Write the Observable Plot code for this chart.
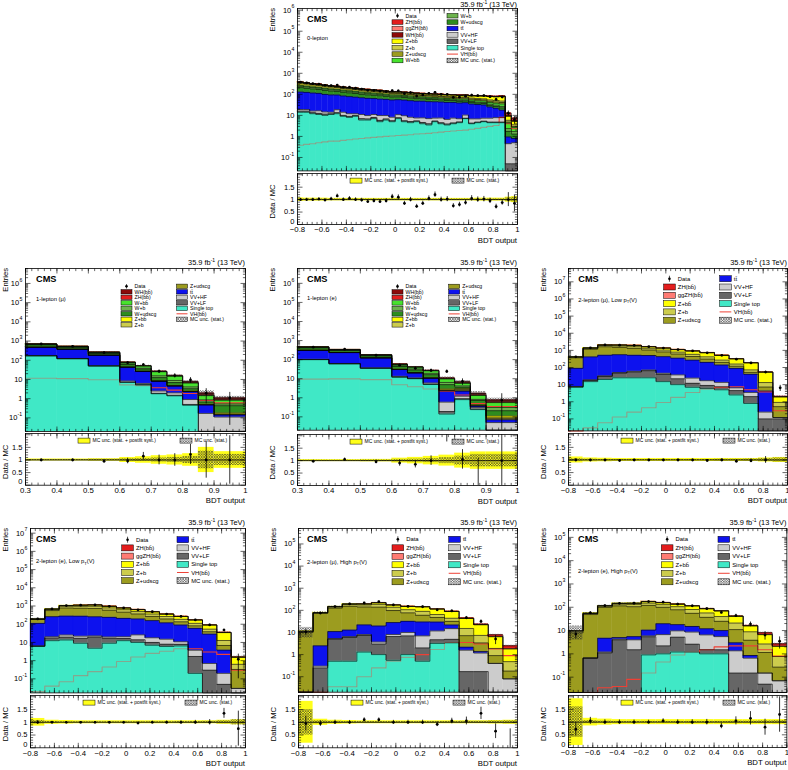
<!DOCTYPE html>
<html><head><meta charset="utf-8">
<script src="https://cdn.jsdelivr.net/npm/d3@7"></script>
<script src="https://cdn.jsdelivr.net/npm/@observablehq/plot@0.6"></script>
<style>
body{margin:0;background:#fff;}
#root{position:relative;width:788px;height:770px;overflow:hidden;background:#fff;}
</style></head><body>
<svg width="0" height="0" style="position:absolute;left:0;top:0"><defs>
<pattern id="hatch" patternUnits="userSpaceOnUse" width="2.6" height="2.6">
<path d="M0,0 L2.6,2.6 M2.6,0 L0,2.6" stroke="#2a2a2a" stroke-width="0.55"/></pattern></defs></svg>
<div id="root"></div>
<script>
// ---------------- data ----------------
const COL = {ZH:"#e31d1d", ggZH:"#ff7b73", WH:"#8b0a0a", Zbb:"#ffff00", Zb:"#cccc4d", Zud:"#9c9c1f",
  Wbb:"#47e22e", Wb:"#6cb34d", Wud:"#2e8c1f", tt:"#0d12ee", VVHF:"#cccccc", VVLF:"#666666", ST:"#40e8c6", VH:"#ee4035"};
const NAME = {Data:"Data", ZH:"ZH(bb\u0304)", ggZH:"ggZH(bb\u0304)", WH:"WH(bb\u0304)", Zbb:"Z+bb\u0304", Zb:"Z+b", Zud:"Z+udscg",
  Wbb:"W+bb\u0304", Wb:"W+b", Wud:"W+udscg", tt:"tt\u0304", VVHF:"VV+HF", VVLF:"VV+LF", ST:"Single top", VH:"VH(bb\u0304)", MC:"MC unc. (stat.)"};

const legend0 = ["Data","ZH","ggZH","WH","Zbb","Zb","Zud","Wbb","Wb","Wud","tt","VVHF","VVLF","ST","VH","MC"];
const legend1 = ["Data","WH","ZH","Wbb","Wb","Wud","Zbb","Zb","Zud","tt","VVHF","VVLF","ST","VH","MC"];
const legend2 = ["Data","ZH","ggZH","Zbb","Zb","Zud","tt","VVHF","VVLF","ST","VH","MC"];

// 0-lepton
const p1_edges = [-0.8,-0.75,-0.7,-0.65,-0.6,-0.55,-0.5,-0.45,-0.4,-0.35,-0.3,-0.25,-0.2,-0.15,-0.1,-0.05,0,0.05,0.1,0.15,0.2,0.25,0.3,0.35,0.4,0.45,0.5,0.55,0.6,0.65,0.7,0.75,0.8,0.85,0.9,0.95,1.0];
const p1_ST   = [14,14,12,11,10,11,12,9,8,9, 6,6,7,5,6,5,7,5,4.5,5, 4,3.5,5,4,3.5,4,4.5,7,4,4.5, 5,4.5,4.5,4.5,0,0];
const p1_VVLF = [2,2,1.5,1.5,1.5,1,1.5,1,1,1, 1,0.8,1,0.8,0.8,0.6,0.8,0.6,0.6,0.5, 0.6,0.5,0.4,0.5,0.4,0.4,0.4,0.3,0.3,0.3, 0.3,0.3,0.3,0.3,0.05,0.05];
const p1_VVHF = [3,3,2.5,4,3,2,5,4,3,2, 4,3,3,4,3,2.5,3,4,3,2, 3,3,2,3,2.5,3,2,3,2.5,2, 2,2.5,3,3,0.4,0.45];
const p1_tt   = [110,105,100,95,85,80,75,70,66,62, 58,55,52,50,48,46,45,44,42,40, 40,38,37,36,35,34,32,30,28,26, 24,18,14,10,0.5,0.3];
const p1_Wud  = [80,70,65,60,55,50,45,42,40,36, 32,30,28,26,23,21,20,18,17,15, 14,13,12,11,10,9,8,8,7,6, 6,5,5,5,0.8,0.5];
const p1_Wb   = [30,28,26,24,22,20,18,17,16,15, 14,13,12,11,10,9,9,8,8,7, 7,6,6,6,5,5,5,5,4,4, 4,4,4,4,0.6,0.4];
const p1_Wbb  = [20,20,19,18,17,16,15,14,14,13, 12,12,11,11,10,10,9,9,9,8, 8,8,8,7,7,7,7,7,7,7, 7,7,7,8,2,1];
const p1_Zud  = [80,72,60,55,50,45,40,36,34,32, 30,27,25,23,20,18,17,16,15,14, 12,12,11,10,10,9,8,8,7,7, 6,6,6,6,0.5,0.3];
const p1_Zb   = [25,22,20,18,17,16,15,14,13,12, 12,11,10,10,9,9,9,8,8,8, 7,7,7,7,7,7,7,7,7,7, 7,7,7,7,1,0.6];
const p1_Zbb  = [15,14,13,13,12,12,12,12,12,12, 12,12,12,12,12,12,13,13,13,13, 13,14,14,14,15,15,16,16,18,20, 22,24,26,30,3,1.5];
const p1_WH   = [0.05,0.05,0.05,0.06,0.06,0.07,0.07,0.08,0.08,0.09, 0.1,0.1,0.11,0.12,0.13,0.14,0.15,0.16,0.17,0.18, 0.2,0.22,0.24,0.26,0.28,0.3,0.33,0.36,0.4,0.45, 0.5,0.55,0.6,1.2,0.8,0.5];
const p1_ggZH = [0.04,0.04,0.04,0.05,0.05,0.05,0.06,0.06,0.07,0.07, 0.08,0.08,0.09,0.1,0.1,0.11,0.12,0.12,0.13,0.14, 0.15,0.16,0.17,0.18,0.2,0.21,0.22,0.24,0.26,0.3, 0.34,0.38,0.42,0.9,0.5,0.3];
const p1_ZH   = [0.2,0.2,0.22,0.24,0.26,0.28,0.3,0.32,0.34,0.36, 0.4,0.42,0.45,0.48,0.5,0.55,0.6,0.62,0.66,0.7, 0.75,0.8,0.85,0.9,1,1.05,1.1,1.2,1.3,1.5, 1.7,1.9,2.1,4.5,2.5,1.4];
const p1_VH   = [0.38,0.42,0.45,0.5,0.55,0.6,0.6,0.65,0.7,0.75, 0.8,0.85,0.9,0.95,1,1.05,1.1,1.15,1.2,1.3, 1.35,1.4,1.5,1.6,1.7,1.8,1.9,2,2.2,2.4, 2.7,3,3.3,8,4,2.3];
const p1_ratio= [1,1,1,1.02,0.98,1.03,1.15,1,1.05,1, 0.98,0.92,0.95,0.92,0.95,1.12,1.1,0.85,1,0.73, 0.85,1.05,1.2,1,1.02,0.75,0.8,0.88,1.05,1, 1.02,0.95,0.72,0.88,1,0.85];
const p1_syst = [0.07,0.06,0.06,0.06,0.06,0.05,0.05,0.05,0.05,0.05, 0.05,0.05,0.05,0.05,0.05,0.05,0.05,0.05,0.05,0.05, 0.05,0.05,0.05,0.05,0.05,0.05,0.05,0.05,0.05,0.06, 0.06,0.06,0.06,0.06,0.1,0.12];
const p1_stat = [0.03,0.03,0.03,0.03,0.03,0.03,0.03,0.03,0.03,0.03, 0.03,0.03,0.03,0.03,0.03,0.03,0.03,0.03,0.03,0.03, 0.03,0.03,0.03,0.03,0.03,0.03,0.03,0.03,0.03,0.03, 0.03,0.035,0.035,0.035,0.07,0.09];

// 1-lepton (mu)
const p2_edges = [0.3,0.4,0.5,0.6,0.65,0.7,0.75,0.8,0.85,0.9,1.0];
const p2_ST   = [170,120,50,7,5.2,1.8,1.4,0.45,0,0];
const p2_VVLF = [1,0.8,0.5,0.3,0.2,0.1,0.1,0.05,0.02,0.02];
const p2_VVHF = [3,2,1.5,1,0.8,0.6,0.5,0.4,0.15,0.09];
const p2_tt   = [300,250,130,35,20,5.5,2.5,1.4,0.3,0.03];
const p2_Zud  = [5,4,2,0.5,0.3,0.2,0.1,0.05,0.01,0.01];
const p2_Zb   = [2,1.5,1,0.3,0.2,0.1,0.1,0.05,0.01,0.01];
const p2_Zbb  = [2,1.5,1,0.4,0.3,0.2,0.2,0.1,0.03,0.02];
const p2_Wud  = [150,90,40,15,8,4,2,0.8,0.15,0.25];
const p2_Wb   = [40,30,15,6,4,3,2,0.8,0.2,0.1];
const p2_Wbb  = [30,25,20,12,12,10,6,2.5,0.6,0.3];
const p2_ZH   = [0.05,0.05,0.05,0.05,0.05,0.1,0.1,0.1,0.05,0.05];
const p2_WH   = [0.2,0.3,0.5,0.5,0.6,0.8,1.0,1.0,0.4,0.2];
const p2_VH   = [11.5,11,9.6,5.2,4.8,3.7,2.8,1.85,0.8,0.6];
const p2_ratio= [1.0,1.0,0.95,0.96,1.15,1.0,1.0,1.22,1.0,1.0];
const p2_syst = [0.04,0.04,0.05,0.1,0.13,0.17,0.2,0.25,0.5,0.33];
const p2_stat = [0.02,0.02,0.03,0.05,0.06,0.08,0.1,0.14,0.35,0.22];

// 1-lepton (e)
const p3_edges = [0.3,0.4,0.5,0.6,0.65,0.7,0.75,0.8,0.85,0.9,1.0];
const p3_ST   = [100,60,35,12,10,5,0.14,0.8,0.24,0];
const p3_VVLF = [1,0.8,0.5,0.3,0.2,0.15,0.05,0.1,0.02,0.01];
const p3_VVHF = [3,2,1.5,1,0.8,0.8,0.4,0.3,0.05,0.04];
const p3_tt   = [200,170,85,17,9,4.5,1.7,1.0,0.05,0.02];
const p3_Zud  = [5,4,2,0.5,0.3,0.3,0.1,0.3,0.02,0.01];
const p3_Zb   = [2,1.5,1,0.3,0.2,0.2,0.2,0.3,0.02,0.01];
const p3_Zbb  = [2,1.5,1,0.4,0.3,0.3,0.3,0.2,0.03,0.02];
const p3_Wud  = [100,60,30,12,8,5,2,0.6,0.3,0.1];
const p3_Wb   = [30,20,10,5,4,3,1.5,0.6,0.1,0.1];
const p3_Wbb  = [20,15,12,8,8,7,3.5,1.6,0.5,0.25];
const p3_ZH   = [0.05,0.05,0.05,0.05,0.05,0.1,0.1,0.1,0.05,0.05];
const p3_WH   = [0.2,0.3,0.4,0.4,0.5,0.7,0.9,0.9,0.3,0.15];
const p3_VH   = [9.5,9.8,9,4.8,3.8,2.9,2.2,1.4,0.5,0.35];
const p3_ratio= [0.97,1.05,0.95,0.9,0.85,1.0,2.2,1.05,0,1.0];
const p3_syst = [0.04,0.04,0.05,0.1,0.13,0.17,0.22,0.3,0.35,0.35];
const p3_stat = [0.02,0.02,0.03,0.05,0.06,0.08,0.12,0.18,0.25,0.25];

// 2-lepton common binning
const bdt2_edges = [-0.8,-0.68,-0.56,-0.44,-0.32,-0.2,-0.08,0.04,0.16,0.28,0.4,0.52,0.64,0.76,0.88,1.0];

// 2-lepton (mu), low pT
const p4_ST   = [7,15,20,25,25,25,15,10,7,6,5,2.5,0.8,0,0];
const p4_VVLF = [0.5,3,10,22,30,40,25,12,5,3,2.5,2,1.2,0.1,0.1];
const p4_VVHF = [0.3,1,3,4,5,6,6,15,12,8,6,2,1.5,0.15,0.02];
const p4_tt   = [82,400,490,510,460,430,385,315,245,183,127,83,37,4,0];
const p4_Zud  = [280,750,1100,950,800,550,380,260,170,110,60,30,12,3,0.4];
const p4_Zb   = [40,150,280,300,330,280,230,180,150,110,70,40,20,6,0.4];
const p4_Zbb  = [10,80,170,240,290,310,320,320,335,315,240,163,116,40,1.0];
const p4_ggZH = [0,0,0,0,0.01,0.01,0.02,0.04,0.08,0.12,0.18,0.24,0.2,0.2,0.02];
const p4_ZH   = [0,0,0.01,0.02,0.04,0.06,0.1,0.2,0.4,0.6,0.9,1.2,1.0,1.0,0.1];
const p4_VH   = [0.015,0.03,0.06,0.13,0.25,0.45,0.9,1.8,3.5,5.5,7,7.5,5,3.8,0.3];
const p4_ratio= [1.0,1.0,1.0,0.98,1.0,1.0,1.0,1.0,1.0,0.98,1.0,0.95,0.97,1.0,3.2];
const p4_syst = [0.12,0.08,0.07,0.06,0.06,0.06,0.06,0.06,0.06,0.06,0.06,0.06,0.06,0.08,0.1];
const p4_stat = [0.05,0.03,0.02,0.02,0.02,0.02,0.02,0.02,0.02,0.02,0.03,0.03,0.04,0.06,0.08];

// 2-lepton (e), low pT
const p5_ST   = [6,12.5,13.6,9,4.8,9,12.5,10,7,6,6.4,0.2,0,0,0];
const p5_VVLF = [0.3,5,6,8,15,8,4,4,3,2,1.5,1.5,0.3,0.05,0.01];
const p5_VVHF = [0.2,3,6,5,3,3,4,12,8,7,3,2,0.4,0.15,0.02];
const p5_tt   = [105,240,255,255,235,220,190,170,140,105,80,56,28,3.6,0];
const p5_Zud  = [70,300,500,480,480,350,250,170,110,75,45,22,10,3,0.3];
const p5_Zb   = [10,80,180,200,230,200,170,130,95,70,50,30,15,6,0.3];
const p5_Zbb  = [4,50,100,150,180,170,150,140,120,95,80,60,37,22,0.9];
const p5_ggZH = [0,0,0,0,0.01,0.01,0.02,0.04,0.06,0.08,0.12,0.14,0.12,0.1,0.01];
const p5_ZH   = [0,0,0,0.01,0.02,0.05,0.1,0.2,0.3,0.4,0.6,0.7,0.6,0.5,0.05];
const p5_VH   = [0.02,0.04,0.07,0.15,0.25,0.45,0.9,1.6,2.5,3.3,4.5,4.5,3,2.2,0.3];
const p5_ratio= [1.0,1.0,1.0,1.0,1.0,1.0,1.0,0.97,1.0,1.0,1.0,1.0,1.0,1.35,0.75];
const p5_syst = [0.15,0.08,0.07,0.06,0.06,0.06,0.06,0.06,0.06,0.06,0.06,0.06,0.06,0.08,0.1];
const p5_stat = [0.07,0.03,0.02,0.02,0.02,0.02,0.02,0.02,0.02,0.02,0.03,0.03,0.04,0.06,0.1];

// 2-lepton (mu), high pT
const p6_ST   = [0,0,0.5,0.5,1.3,1.0,0.55,1.0,0.5,3.2,3.4,0,0,0,0];
const p6_VVLF = [0,0.25,4.5,5.5,6,2,6,6,1.5,1.5,1.5,0.17,0.17,0,0];
const p6_VVHF = [0,0.05,0.3,0.5,0.8,0.7,1.5,3,5,7,10,1.4,1.0,0.4,0.08];
const p6_tt   = [0,2.2,5.7,6.4,14,16,20,22,23,18,7,0.6,0.2,0,0];
const p6_Zud  = [10,70,115,140,120,120,70,45,30,18,10,5,2,0.5,0.1];
const p6_Zb   = [1,5,15,28,33,47,40,30,30,17,12,8,4,1,0.3];
const p6_Zbb  = [0.3,2,7,14,20,35,37,43,55,50,45,28,15,4.5,1.3];
const p6_ggZH = [0,0,0,0,0,0.01,0.02,0.03,0.05,0.08,0.1,0.12,0.15,0.2,0.1];
const p6_ZH   = [0,0,0,0,0.02,0.04,0.1,0.15,0.2,0.35,0.5,0.7,0.9,1.2,0.6];
const p6_VH   = [0,0,0.035,0.035,0.1,0.25,0.5,0.75,1.0,1.7,3.5,3.5,3.0,1.8,0.9];
const p6_ratio= [0.95,0.95,1.0,1.0,1.1,1.1,1.0,1.0,1.0,0.92,1.05,1.05,1.35,0.65,0];
const p6_syst = [0.82,0.12,0.08,0.07,0.06,0.06,0.06,0.06,0.06,0.06,0.06,0.06,0.06,0.07,0.08];
const p6_stat = [0.5,0.06,0.04,0.03,0.03,0.03,0.03,0.03,0.03,0.03,0.03,0.04,0.04,0.05,0.06];

// 2-lepton (e), high pT
const p7_ST   = [0,0,0,0,0,0.9,1.0,1.2,1.2,1.0,1.0,0,0,0,0];
const p7_VVLF = [0,0.65,1.1,4,1.5,4.5,1.2,4,1.4,0.5,0.5,0.15,0.15,0.05,0.02];
const p7_VVHF = [0,0.02,0.1,0.3,2.5,0.5,4.5,4.5,6,5,4,1.2,0.5,0.1,0.05];
const p7_tt   = [0,0,3.5,0.7,1.5,4.6,13,8.3,6.4,5.5,4.5,1.65,0.2,0,0];
const p7_Zud  = [8,48,95,110,100,110,80,60,40,25,15,8,3,1,0.2];
const p7_Zb   = [1.5,5,12,20,25,30,30,28,25,20,15,10,5,1.5,0.5];
const p7_Zbb  = [0.3,1.5,5,12,18,25,28,30,35,30,30,20,7,4,1.3];
const p7_ggZH = [0,0,0,0,0,0,0.01,0.02,0.03,0.05,0.07,0.1,0.12,0.2,0.1];
const p7_ZH   = [0,0,0,0,0,0.01,0.02,0.05,0.1,0.2,0.3,0.4,0.5,1.2,0.5];
const p7_VH   = [0,0.02,0.035,0.04,0.08,0.15,0.45,0.9,1.2,1.5,2,2.2,2.2,1.5,0.8];
const p7_ratio= [0.72,1.05,1.0,1.0,1.0,1.0,1.05,1.0,1.0,1.0,0.85,1.05,1.15,0.8,1.3];
const p7_syst = [0.92,0.15,0.12,0.1,0.1,0.1,0.1,0.1,0.1,0.1,0.1,0.1,0.1,0.1,0.1];
const p7_stat = [0.6,0.06,0.04,0.03,0.03,0.03,0.03,0.03,0.03,0.03,0.03,0.04,0.04,0.05,0.06];

const xTicksWide = [-0.8,-0.6,-0.4,-0.2,0,0.2,0.4,0.6,0.8,1.0];
const xTicksNarrow = [0.3,0.4,0.5,0.6,0.7,0.8,0.9,1.0];

// ---------------- drawing ----------------
const FONT = '"Liberation Sans", Arial, Helvetica, sans-serif';
const root = document.getElementById("root");

const lgA = {c1:95, c2:150, top:7.7, dy:6.4, sw:11, sh:4.6, fs:5.3};
const lgB = {c1:96, c2:151.5, top:18.3, dy:5.5, sw:11, sh:4.4, fs:5.2};

const panels = [
 {fL:297, fR:517, fT:8.3, fB:170.7, rT:173.3, rB:224.3, edges:p1_edges, lumY:-1.2,
  stack:[["ST",p1_ST],["VVLF",p1_VVLF],["VVHF",p1_VVHF],["tt",p1_tt],["Wud",p1_Wud],["Wb",p1_Wb],["Wbb",p1_Wbb],["Zud",p1_Zud],["Zb",p1_Zb],["Zbb",p1_Zbb],["WH",p1_WH],["ggZH",p1_ggZH],["ZH",p1_ZH]],
  vh:p1_VH, ratio:p1_ratio, syst:p1_syst, stat:p1_stat, yDomain:[0.023,1.2e6], xMaj:xTicksWide, xStep:0.04,
  legend:legend0, lg:lgA, region:["0-lepton"], cmsX:10, regY:32.5},
 {fL:25, fR:245, fT:267.7, fB:430.7, rT:433.3, rB:485, edges:p2_edges, lumY:-3.2,
  stack:[["ST",p2_ST],["VVLF",p2_VVLF],["VVHF",p2_VVHF],["tt",p2_tt],["Zud",p2_Zud],["Zb",p2_Zb],["Zbb",p2_Zbb],["Wud",p2_Wud],["Wb",p2_Wb],["Wbb",p2_Wbb],["ZH",p2_ZH],["WH",p2_WH]],
  vh:p2_VH, ratio:p2_ratio, syst:p2_syst, stat:p2_stat, yDomain:[0.0195,6e6], xMaj:xTicksNarrow, xStep:0.02,
  legend:legend1, lg:lgB, region:["1-lepton (\u03bc)"], cmsX:11, regY:32.5},
 {fL:297, fR:517, fT:268.3, fB:430, rT:434, rB:485, edges:p3_edges, lumY:-3.2,
  stack:[["ST",p3_ST],["VVLF",p3_VVLF],["VVHF",p3_VVHF],["tt",p3_tt],["Zud",p3_Zud],["Zb",p3_Zb],["Zbb",p3_Zbb],["Wud",p3_Wud],["Wb",p3_Wb],["Wbb",p3_Wbb],["ZH",p3_ZH],["WH",p3_WH]],
  vh:p3_VH, ratio:p3_ratio, syst:p3_syst, stat:p3_stat, yDomain:[0.02,6e6], xMaj:xTicksNarrow, xStep:0.02,
  legend:legend1, lg:{...lgB, c1:95, c2:151.7, top:18.4}, region:["1-lepton (e)"], cmsX:10, regY:32},
 {fL:567.7, fR:786.7, fT:268.3, fB:430.7, rT:433.3, rB:485, edges:bdt2_edges, lumY:-3.2,
  stack:[["ST",p4_ST],["VVLF",p4_VVLF],["VVHF",p4_VVHF],["tt",p4_tt],["Zud",p4_Zud],["Zb",p4_Zb],["Zbb",p4_Zbb],["ggZH",p4_ggZH],["ZH",p4_ZH]],
  vh:p4_VH, ratio:p4_ratio, syst:p4_syst, stat:p4_stat, yDomain:[0.02,6e7], xMaj:xTicksWide, xStep:0.04,
  legend:legend2, lg:{c1:95.6, c2:151.6, top:10.7, dy:8.3, sw:11.7, sh:6, fs:5.9}, region:["2-lepton (\u03bc), Low p","T","(V)"], cmsX:10.3, regY:33.7},
 {fL:30, fR:245, fT:528.3, fB:692.7, rT:695, rB:747.3, edges:bdt2_edges, lumY:-3.2,
  stack:[["ST",p5_ST],["VVLF",p5_VVLF],["VVHF",p5_VVHF],["tt",p5_tt],["Zud",p5_Zud],["Zb",p5_Zb],["Zbb",p5_Zbb],["ggZH",p5_ggZH],["ZH",p5_ZH]],
  vh:p5_VH, ratio:p5_ratio, syst:p5_syst, stat:p5_stat, yDomain:[0.017,1.8e7], xMaj:xTicksWide, xStep:0.04,
  legend:legend2, lg:{c1:91.7, c2:147, top:11.7, dy:8.2, sw:11.7, sh:6, fs:5.9}, region:["2-lepton (e), Low p","T","(V)"], cmsX:6, regY:35.4},
 {fL:298, fR:517, fT:528, fB:691.7, rT:695, rB:747.3, edges:bdt2_edges, lumY:-3.2,
  stack:[["ST",p6_ST],["VVLF",p6_VVLF],["VVHF",p6_VVHF],["tt",p6_tt],["Zud",p6_Zud],["Zb",p6_Zb],["Zbb",p6_Zbb],["ggZH",p6_ggZH],["ZH",p6_ZH]],
  vh:p6_VH, ratio:p6_ratio, syst:p6_syst, stat:p6_stat, yDomain:[0.02,5e5], xMaj:xTicksWide, xStep:0.04,
  legend:legend2, lg:{c1:94, c2:150.7, top:11.3, dy:8.5, sw:11.7, sh:6, fs:5.9}, region:["2-lepton (\u03bc), High p","T","(V)"], cmsX:9, regY:35.7},
 {fL:568.3, fR:786.7, fT:528, fB:692, rT:695, rB:747, edges:bdt2_edges, lumY:-3.2,
  stack:[["ST",p7_ST],["VVLF",p7_VVLF],["VVHF",p7_VVHF],["tt",p7_tt],["Zud",p7_Zud],["Zb",p7_Zb],["Zbb",p7_Zbb],["ggZH",p7_ggZH],["ZH",p7_ZH]],
  vh:p7_VH, ratio:p7_ratio, syst:p7_syst, stat:p7_stat, yDomain:[0.022,2.4e5], xMaj:xTicksWide, xStep:0.04,
  legend:legend2, lg:{c1:93.3, c2:150, top:11.3, dy:8.5, sw:11.7, sh:6, fs:5.9}, region:["2-lepton (e), High p","T","(V)"], cmsX:10, regY:45}
];

function logTicks(d) {
  const out = [];
  for (let k = Math.floor(Math.log10(d[0])); k <= Math.ceil(Math.log10(d[1])); k++)
    for (let m = 1; m <= 9; m++) {
      const v = m * Math.pow(10, k);
      if (v >= d[0] * 0.999 && v <= d[1] * 1.001) out.push({v, major: m === 1, k});
    }
  return out;
}
function stepPts(edges, vals, z) {
  const pts = vals.map((v, i) => ({x: edges[i], y: v, z}));
  pts.push({x: edges[edges.length - 1], y: vals[vals.length - 1], z});
  return pts;
}
function fmtX(v) {
  if (Math.abs(v) < 1e-9) return "0";
  if (Math.abs(v - 1) < 1e-9) return "1";
  return (v < 0 ? "\u2212" : "") + Math.abs(v).toFixed(1);
}
function place(svg, left, top) {
  svg.style.position = "absolute";
  svg.style.left = left + "px";
  svg.style.top = top + "px";
  svg.style.overflow = "visible";
  svg.style.background = "transparent";
  svg.style.maxWidth = "none";
  root.appendChild(svg);
}
function tickSegs(xd, yd, fw, fh, log, xMajor, xMinor, yList) {
  const segs = [];
  const dec = log ? Math.log10(yd[1] / yd[0]) : 0;
  const yUp = (base, L) => log ? base * Math.pow(10, L * dec / fh) : base + L * (yd[1] - yd[0]) / fh;
  const yDn = (base, L) => log ? base / Math.pow(10, L * dec / fh) : base - L * (yd[1] - yd[0]) / fh;
  const xl = L => L * (xd[1] - xd[0]) / fw;
  const addX = (list, L) => list.forEach(x => {
    segs.push({x1: x, x2: x, y1: yd[0], y2: yUp(yd[0], L)});
    segs.push({x1: x, x2: x, y1: yd[1], y2: yDn(yd[1], L)});
  });
  addX(xMajor, 5); addX(xMinor, 2.6);
  yList.forEach(t => {
    const L = t.major ? 5 : 2.6;
    segs.push({x1: xd[0], x2: xd[0] + xl(L), y1: t.v, y2: t.v});
    segs.push({x1: xd[1] - xl(L), x2: xd[1], y1: t.v, y2: t.v});
  });
  return segs;
}

function drawPanel(P) {
  const n = P.edges.length - 1, xd = [P.edges[0], P.edges[n]];
  const fw = P.fR - P.fL, fh = P.fB - P.fT, rh = P.rB - P.rT;
  const floor = P.yDomain[0] * 0.2;
  const cum = new Array(n).fill(0);
  const rects = [], outl = [], stRects = [];
  P.stack.forEach(([key, vals], li) => {
    const lo = cum.slice();
    for (let i = 0; i < n; i++) cum[i] += vals[i];
    for (let i = 0; i < n; i++) if (vals[i] > 0) {
      const r = {x1: P.edges[i], x2: P.edges[i + 1], y1: Math.max(lo[i], floor), y2: cum[i], key};
      rects.push(r);
      if (key === "ST") stRects.push(r);
    }
    outl.push(...stepPts(P.edges, cum.map(v => Math.max(v, floor)), li));
  });
  const total = cum.slice();
  const centers = total.map((_, i) => (P.edges[i] + P.edges[i + 1]) / 2);
  const data = total.map((t, i) => t * P.ratio[i]);
  const statBand = total.map((t, i) => ({x1: P.edges[i], x2: P.edges[i + 1], y1: Math.max(t * (1 - P.stat[i]), floor), y2: t * (1 + P.stat[i])})).filter(d => d.y2 > 0);
  const pts = data.map((d, i) => ({x: centers[i], y: d, lo: Math.max(d - Math.sqrt(d), floor), hi: d + Math.sqrt(d)})).filter(d => d.y > 0);
  const vhPts = stepPts(P.edges, P.vh.map(v => Math.max(v, floor)), 0);

  const yt = logTicks(P.yDomain);
  const yMaj = yt.filter(t => t.major);
  const xMin = [];
  for (let v = xd[0]; v <= xd[1] + 1e-9; v += P.xStep) xMin.push(+v.toFixed(4));
  const segs = tickSegs(xd, P.yDomain, fw, fh, true, P.xMaj, xMin, yt);

  const mL = 34, mR = 3, mT = 14, mB = 0;
  const titleX = Math.max(mL - 22, mL - P.fL + 7.5);
  const main = Plot.plot({
    width: fw + mL + mR, height: fh + mT + mB,
    marginLeft: mL, marginRight: mR, marginTop: mT, marginBottom: mB,
    style: {fontFamily: FONT, background: "transparent", overflow: "visible"},
    x: {domain: xd, axis: null},
    y: {type: "log", domain: P.yDomain, clamp: true, axis: null},
    color: {type: "identity"},
    marks: [
      Plot.rect(rects, {x1: "x1", x2: "x2", y1: "y1", y2: "y2", fill: d => COL[d.key], stroke: d => COL[d.key], strokeWidth: 0.4}),
      Plot.line(vhPts, {x: "x", y: "y", curve: "step-after", stroke: COL.VH, strokeWidth: 1.1}),
      Plot.rect(stRects, {x1: "x1", x2: "x2", y1: "y1", y2: "y2", fill: () => COL.ST, fillOpacity: 0.62}),
      Plot.line(outl, {x: "x", y: "y", z: "z", curve: "step-after", stroke: "#000", strokeWidth: 0.6}),
      Plot.rect(statBand, {x1: "x1", x2: "x2", y1: "y1", y2: "y2", fill: () => "url(#hatch)"}),
      Plot.ruleX(pts, {x: "x", y1: "lo", y2: "hi", stroke: "#000", strokeWidth: 0.8}),
      Plot.dot(pts, {x: "x", y: "y", r: 1.4, fill: "#000"}),
      Plot.link(segs, {x1: "x1", x2: "x2", y1: "y1", y2: "y2", stroke: "#000", strokeWidth: 0.6}),
      Plot.frame({stroke: "#000", strokeWidth: 0.8}),
      Plot.text(yMaj.filter(t => t.k === 0 || t.k === 1), {y: "v", text: t => t.k === 0 ? "1" : "10", frameAnchor: "left", textAnchor: "end", dx: -3, fontSize: 7.5}),
      Plot.text(yMaj.filter(t => t.k >= 2), {y: "v", text: () => "10", frameAnchor: "left", textAnchor: "end", dx: -6.3, fontSize: 7.5}),
      Plot.text(yMaj.filter(t => t.k >= 2), {y: "v", text: t => String(t.k), frameAnchor: "left", textAnchor: "start", dx: -6.1, dy: -3.4, fontSize: 5.2}),
      Plot.text(yMaj.filter(t => t.k < 0), {y: "v", text: () => "10", frameAnchor: "left", textAnchor: "end", dx: -8.2, fontSize: 7.5}),
      Plot.text(yMaj.filter(t => t.k < 0), {y: "v", text: t => String(t.k), frameAnchor: "left", textAnchor: "start", dx: -8, dy: -3.4, fontSize: 5.2})
    ]
  });
  place(main, P.fL - mL, P.fT - mT);

  // annotations in the main svg
  const s = d3.select(main);
  const g = s.append("g").attr("font-family", FONT).attr("fill", "#000").attr("text-anchor", "start");
  const lum = g.append("text").attr("x", mL + fw).attr("y", mT + P.lumY).attr("text-anchor", "end").attr("font-size", 7.4);
  lum.append("tspan").text("35.9 fb");
  lum.append("tspan").attr("font-size", 5).attr("dy", -2.8).text("-1");
  lum.append("tspan").attr("dy", 2.8).text(" (13 TeV)");
  g.append("text").attr("x", mL + P.cmsX).attr("y", mT + 14.2).attr("text-anchor", "start").attr("font-size", 9.2).attr("font-weight", "bold").text("CMS");
  const rg = g.append("text").attr("x", mL + P.cmsX).attr("y", mT + P.regY).attr("text-anchor", "start").attr("font-size", 5.8);
  rg.append("tspan").text(P.region[0]);
  if (P.region.length > 1) {
    rg.append("tspan").attr("font-size", 4.2).attr("dy", 1.4).text(P.region[1]);
    rg.append("tspan").attr("dy", -1.4).text(P.region[2]);
  }
  g.append("text").attr("transform", `translate(${titleX},${mT}) rotate(-90)`).attr("text-anchor", "end").attr("font-size", 7.6).text("Entries");

  // legend
  const L = P.lg, nr = Math.ceil(P.legend.length / 2);
  const lg = g.append("g").attr("font-size", L.fs).attr("text-anchor", "start");
  P.legend.forEach((k, i) => {
    const col = i < nr ? 0 : 1, row = col ? i - nr : i;
    const x = mL + (col ? L.c2 : L.c1), cy = mT + L.top + row * L.dy;
    if (k === "Data") {
      lg.append("line").attr("x1", x + L.sw / 2).attr("x2", x + L.sw / 2).attr("y1", cy - L.sh / 2).attr("y2", cy + L.sh / 2).attr("stroke", "#000").attr("stroke-width", 0.7);
      lg.append("circle").attr("cx", x + L.sw / 2).attr("cy", cy).attr("r", 1.3).attr("fill", "#000");
    } else if (k === "VH") {
      lg.append("line").attr("x1", x).attr("x2", x + L.sw).attr("y1", cy).attr("y2", cy).attr("stroke", COL.VH).attr("stroke-width", 1);
    } else {
      lg.append("rect").attr("x", x).attr("y", cy - L.sh / 2).attr("width", L.sw).attr("height", L.sh)
        .attr("fill", k === "MC" ? "url(#hatch)" : COL[k]).attr("stroke", "#000").attr("stroke-width", 0.5);
    }
    lg.append("text").attr("x", x + L.sw + 2.5).attr("y", cy).attr("dy", "0.35em").attr("text-anchor", "start").text(NAME[k]);
  });

  // ratio panel
  const rd = [0, 2.05];
  const clampR = v => Math.max(rd[0], Math.min(rd[1], v));
  const yBand = P.syst.map((u, i) => ({x1: P.edges[i], x2: P.edges[i + 1], y1: clampR(1 - u), y2: clampR(1 + u)}));
  const hBand = P.stat.map((u, i) => ({x1: P.edges[i], x2: P.edges[i + 1], y1: clampR(1 - u), y2: clampR(1 + u)}));
  const rPts = data.map((d, i) => {
    const t = total[i];
    const up = d > 0 ? Math.sqrt(d) : 1.84, dn = Math.sqrt(d);
    return {x: centers[i], y: P.ratio[i], lo: clampR(P.ratio[i] - dn / t), hi: clampR(P.ratio[i] + up / t)};
  }).filter(d => d.lo < rd[1]);
  const rDots = rPts.filter(d => d.y > 0.02 && d.y < rd[1]);
  const rt = [];
  for (let v = 0; v <= 2.0001; v += 0.1) rt.push({v: +v.toFixed(2), major: Math.abs(v * 2 - Math.round(v * 2)) < 1e-6});
  const rsegs = tickSegs(xd, rd, fw, rh, false, P.xMaj, xMin, rt);
  const m2T = 2, m2B = 30;
  const ratio = Plot.plot({
    width: fw + mL + mR, height: rh + m2T + m2B,
    marginLeft: mL, marginRight: mR, marginTop: m2T, marginBottom: m2B,
    style: {fontFamily: FONT, background: "transparent", overflow: "visible"},
    x: {domain: xd, axis: null},
    y: {domain: rd, axis: null},
    color: {type: "identity"},
    marks: [
      Plot.rect(yBand, {x1: "x1", x2: "x2", y1: "y1", y2: "y2", fill: () => "#ffff1a"}),
      Plot.rect(hBand, {x1: "x1", x2: "x2", y1: "y1", y2: "y2", fill: () => "url(#hatch)"}),
      Plot.ruleY([1], {stroke: "#000", strokeWidth: 0.8}),
      Plot.ruleX(rPts, {x: "x", y1: "lo", y2: "hi", stroke: "#000", strokeWidth: 0.8}),
      Plot.dot(rDots, {x: "x", y: "y", r: 1.4, fill: "#000"}),
      Plot.link(rsegs, {x1: "x1", x2: "x2", y1: "y1", y2: "y2", stroke: "#000", strokeWidth: 0.6}),
      Plot.frame({stroke: "#000", strokeWidth: 0.8}),
      Plot.text([0.5, 1, 1.5], {y: d => d, text: d => String(d), frameAnchor: "left", textAnchor: "end", dx: -3, fontSize: 7.5}),
      Plot.text([0], {y: d => d, text: d => String(d), frameAnchor: "left", textAnchor: "end", dx: -3, dy: -3.2, fontSize: 7.5}),
      Plot.text(P.xMaj, {x: d => d, text: d => fmtX(d), frameAnchor: "bottom", lineAnchor: "top", dy: 2.4, fontSize: 7.8})
    ]
  });
  place(ratio, P.fL - mL, P.rT - m2T);
  const r = d3.select(ratio).append("g").attr("font-family", FONT).attr("fill", "#000").attr("text-anchor", "start");
  r.append("text").attr("x", mL + fw).attr("y", m2T + rh + 18.5).attr("text-anchor", "end").attr("font-size", 7.8).text("BDT output");
  r.append("text").attr("transform", `translate(${titleX},${m2T + rh / 2 + 3}) rotate(-90)`).attr("text-anchor", "middle").attr("font-size", 7.6).text("Data / MC");
  const ly = m2T + 7.6, rl = r.append("g").attr("font-size", 5).attr("text-anchor", "start");
  rl.append("rect").attr("x", mL + 53).attr("y", ly - 2.5).attr("width", 12).attr("height", 5).attr("fill", "#ffff1a").attr("stroke", "#000").attr("stroke-width", 0.5);
  rl.append("text").attr("x", mL + 67.5).attr("y", ly).attr("dy", "0.35em").text("MC unc. (stat. + postfit syst.)");
  rl.append("rect").attr("x", mL + 155).attr("y", ly - 2.5).attr("width", 12).attr("height", 5).attr("fill", "url(#hatch)").attr("stroke", "#000").attr("stroke-width", 0.5);
  rl.append("text").attr("x", mL + 169.5).attr("y", ly).attr("dy", "0.35em").text("MC unc. (stat.)");
}

panels.forEach(drawPanel);
</script>
</body></html>
